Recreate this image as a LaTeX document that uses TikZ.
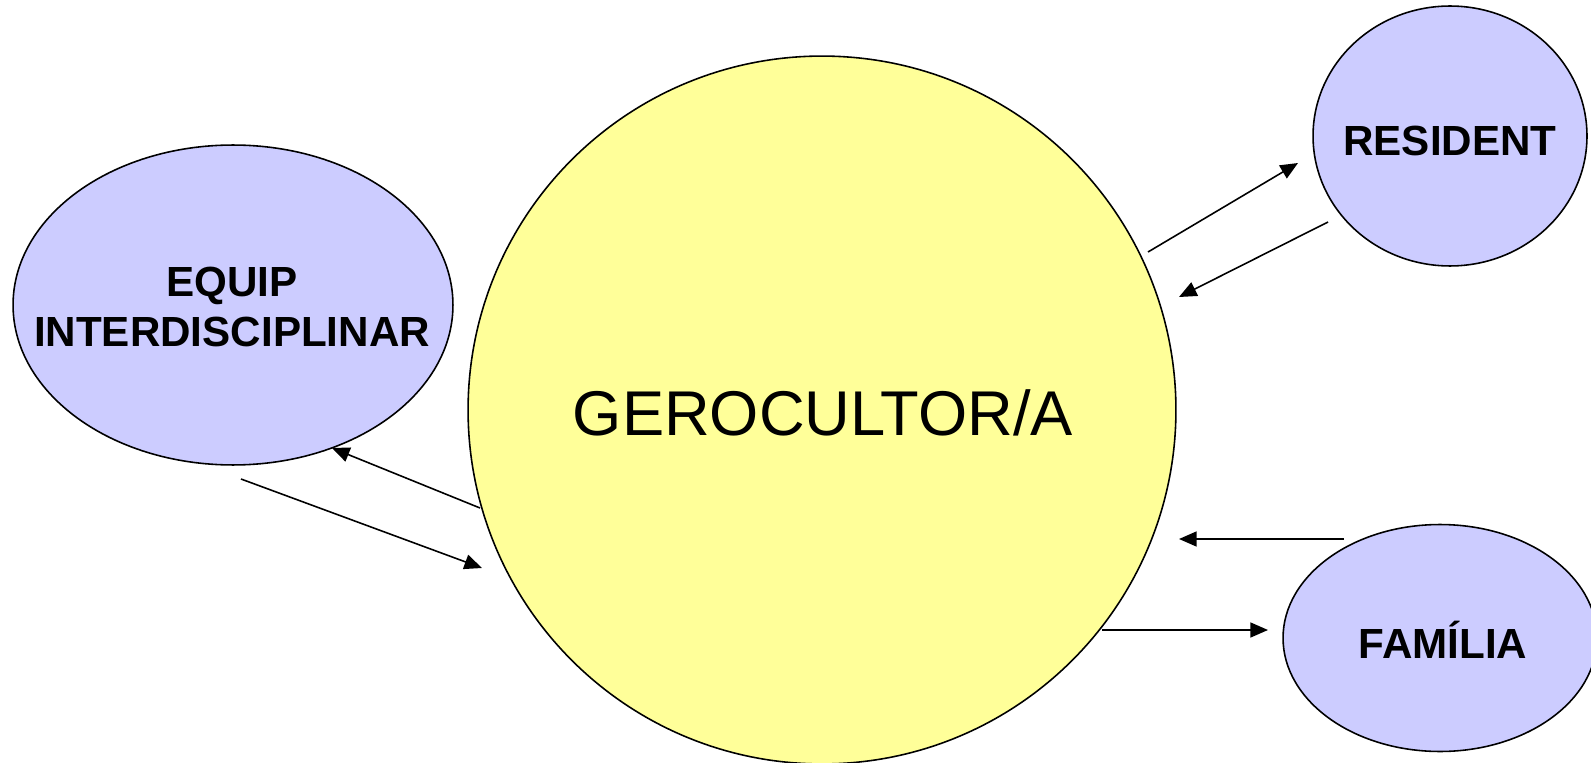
\documentclass[tikz,border=0pt]{standalone}
\usepackage{fontspec}
\setmainfont{Liberation Sans}
\usetikzlibrary{shapes.geometric,arrows.meta}

\definecolor{lila}{RGB}{204,204,255}
\definecolor{groc}{RGB}{255,255,153}

\tikzset{
  satel/.style={ellipse, draw, line width=0.9pt, fill=lila, inner sep=0pt},
  satxt/.style={font=\fontsize{24}{29}\selectfont\bfseries, align=center},
  centre/.style={circle, draw, line width=0.9pt, fill=groc, inner sep=0pt,
                 minimum size=14.16cm},
  cetxt/.style={font=\fontsize{36}{43}\selectfont},
  arr/.style={-{Triangle[length=10pt,width=8.5pt]}, line width=0.9pt}
}

\begin{document}
\begin{tikzpicture}[x=0.02cm, y=-0.02cm]

  \useasboundingbox (0,0) rectangle (1591,763);

  % Define nodes
  \node[centre]                                            (geroc) at (822,410) {};
  \node[satel, minimum width=8.8cm,  minimum height=6.4cm]  (equip) at (233,305) {};
  \node[satel, minimum width=5.48cm, minimum height=5.2cm]  (resid) at (1450,136) {};
  \node[satel, minimum width=6.28cm, minimum height=4.54cm] (famil) at (1440,638) {};

  % Node texts
  \node[cetxt] (geroc-t) at (823,413) {GEROCULTOR/A};
  \node[satxt] (equip-t) at (232,307) {EQUIP\\INTERDISCIPLINAR};
  \node[satxt] (resid-t) at (1450,141) {RESIDENT};
  \node[satxt] (famil-t) at (1443,640) {FAMÍLIA};

  % Arrow ends
  \coordinate (geroc-r1) at (1148,252);
  \coordinate (resid-1)  at (1298,163);
  \coordinate (resid-2)  at (1328,222);
  \coordinate (geroc-r2) at (1179,297);
  \coordinate (famil-1)  at (1344,539);
  \coordinate (geroc-f1) at (1179,539);
  \coordinate (geroc-f2) at (1102,630);
  \coordinate (famil-2)  at (1268,630);
  \coordinate (geroc-e1) at (480,508);
  \coordinate (equip-1)  at (332,448);
  \coordinate (equip-2)  at (241,479);
  \coordinate (geroc-e2) at (482,568);

  % Connect the nodes
  \draw[arr] (geroc-r1) -- (resid-1);
  \draw[arr] (resid-2) -- (geroc-r2);
  \draw[arr] (famil-1) -- (geroc-f1);
  \draw[arr] (geroc-f2) -- (famil-2);
  \draw[arr] (geroc-e1) -- (equip-1);
  \draw[arr] (equip-2) -- (geroc-e2);

\end{tikzpicture}
\end{document}
